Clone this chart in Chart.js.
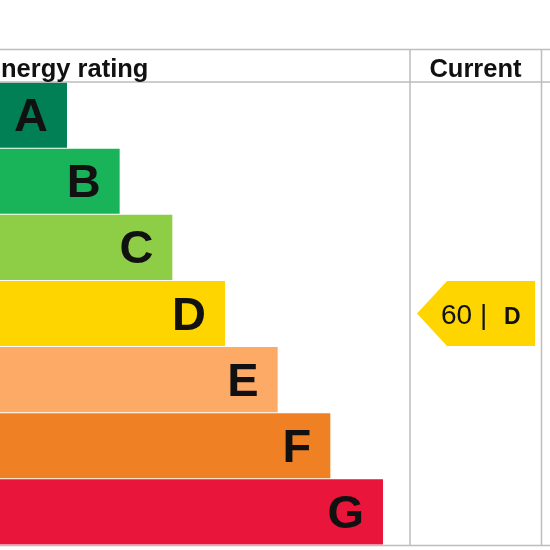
<!DOCTYPE html>
<html lang="en">
<head>
    <meta charset="UTF-8">
    <title>Energy rating</title>
    <script src="https://cdn.jsdelivr.net/npm/chart.js"></script>
    <style>
        body {
            margin: 0;
            padding: 0;
            background-color: #fff;
        }
        #chart {
            display: block;
        }
    </style>
</head>
<body>
    <canvas id="chart" width="550" height="550"></canvas>

    <script>
        // rating bands, top to bottom, and their relative bar lengths
        const bands = ['A', 'B', 'C', 'D', 'E', 'F', 'G'];
        const barLengths = [1, 2, 3, 4, 5, 6, 7];
        const bandColors = ['#008054', '#19b459', '#8dce46', '#ffd500', '#fcaa65', '#ef8023', '#e9153b'];

        // current rating shown in the arrow
        const currentScore = 60;
        const currentBand = 'D';

        const headerTitle = 'Energy rating';
        const headerCurrent = 'Current';

        const FONT = '"Liberation Sans", Arial, sans-serif';
        const LINE_COLOR = '#bdbdbd';
        const X_MIN = -0.272;
        const X_MAX = 10.0;

        const epcPlugin = {
            id: 'epc',
            afterDatasetsDraw(chart) {
                const ctx = chart.ctx;
                const area = chart.chartArea;
                const meta = chart.getDatasetMeta(0);
                const colLeft = 410;
                const colRight = area.right;

                ctx.save();

                // band letters inside the bars
                ctx.fillStyle = '#111';
                ctx.font = 'bold 47px ' + FONT;
                ctx.textAlign = 'right';
                ctx.textBaseline = 'alphabetic';
                meta.data.forEach((bar, i) => {
                    ctx.fillText(bands[i], bar.x - 19, bar.y + 16);
                });

                // table lines
                ctx.strokeStyle = LINE_COLOR;
                ctx.lineWidth = 1.5;
                ctx.beginPath();
                ctx.moveTo(0, 49.5); ctx.lineTo(chart.width, 49.5);
                ctx.moveTo(0, area.top); ctx.lineTo(chart.width, area.top);
                ctx.moveTo(0, area.bottom + 0.5); ctx.lineTo(chart.width, area.bottom + 0.5);
                ctx.moveTo(colLeft, 49.5); ctx.lineTo(colLeft, area.bottom + 0.5);
                ctx.moveTo(colRight + 0.5, 49.5); ctx.lineTo(colRight + 0.5, area.bottom + 0.5);
                ctx.stroke();

                // header texts
                ctx.fillStyle = '#111';
                ctx.font = 'bold 25.5px ' + FONT;
                ctx.textBaseline = 'alphabetic';
                ctx.textAlign = 'left';
                ctx.fillText(headerTitle, -16, 77);
                ctx.textAlign = 'center';
                ctx.fillText(headerCurrent, (colLeft + colRight) / 2, 77);

                // current rating arrow
                const idx = bands.indexOf(currentBand);
                const bar = meta.data[idx];
                const half = bar.height / 2;
                const top = bar.y - half;
                const bottom = bar.y + half;
                const tipX = colLeft + 7;
                const bodyX = tipX + 30;
                const rightX = colRight - 6;
                ctx.fillStyle = bandColors[idx];
                ctx.beginPath();
                ctx.moveTo(tipX, bar.y);
                ctx.lineTo(bodyX, top);
                ctx.lineTo(rightX, top);
                ctx.lineTo(rightX, bottom);
                ctx.lineTo(bodyX, bottom);
                ctx.closePath();
                ctx.fill();

                ctx.fillStyle = '#111';
                ctx.textAlign = 'left';
                ctx.font = '28px ' + FONT;
                const scoreText = currentScore + ' | ';
                const textX = tipX + 24;
                ctx.fillText(scoreText, textX, bar.y + 10);
                const w = ctx.measureText(scoreText).width;
                ctx.font = 'bold 23px ' + FONT;
                ctx.fillText(currentBand, textX + w + 9, bar.y + 10);

                ctx.restore();
            }
        };

        new Chart(document.getElementById('chart').getContext('2d'), {
            type: 'bar',
            data: {
                labels: bands,
                datasets: [{
                    data: barLengths,
                    backgroundColor: bandColors,
                    borderWidth: 0,
                    base: X_MIN,
                    barPercentage: 1,
                    categoryPercentage: 0.985
                }]
            },
            options: {
                indexAxis: 'y',
                responsive: false,
                animation: false,
                layout: { padding: { top: 82, bottom: 5, left: 0, right: 9 } },
                scales: {
                    x: { type: 'linear', display: false, min: X_MIN, max: X_MAX },
                    y: { display: false }
                },
                plugins: {
                    legend: { display: false },
                    tooltip: { enabled: false }
                }
            },
            plugins: [epcPlugin]
        });
    </script>
</body>
</html>
